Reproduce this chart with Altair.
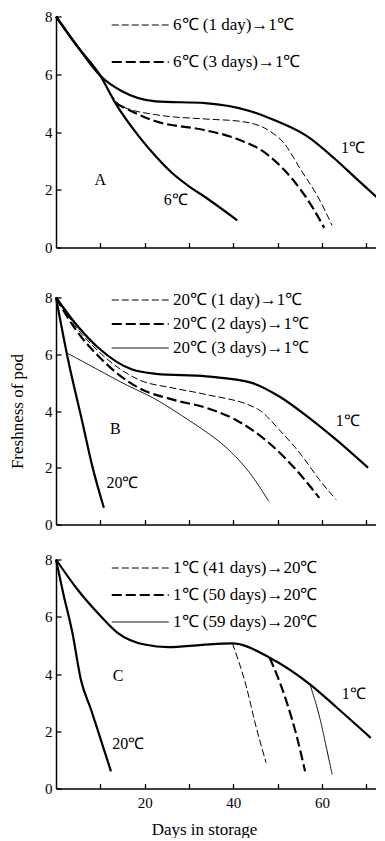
import altair as alt
import pandas as pd

FONT = "Liberation Serif"

# ---------------- Panel A ----------------
A_1C_days = [0, 4.8, 10, 14.9, 22.5, 33.7, 43.9, 49.9, 56.7, 62.7, 68, 72.5]
A_1C_vals = [8, 6.97, 5.95, 5.41, 5.06, 5.0, 4.72, 4.37, 3.85, 3.1, 2.35, 1.72]
A_6C_days = [0, 4.8, 10, 13.4, 18.7, 22.5, 26.2, 30, 33.7, 40.9]
A_6C_vals = [8, 6.97, 5.95, 5.0, 3.85, 3.16, 2.58, 2.12, 1.74, 0.94]
A_1d_days = [10, 14.9, 22.5, 33.7, 41.6, 47.7, 51.4, 55.2, 59, 62.3]
A_1d_vals = [5.95, 4.89, 4.6, 4.45, 4.37, 4.08, 3.62, 2.7, 1.78, 0.76]
A_3d_days = [13.4, 22.5, 33.7, 40.1, 47.7, 51.4, 55.2, 58.2, 60.5]
A_3d_vals = [5.0, 4.37, 4.06, 3.8, 3.22, 2.7, 2.0, 1.31, 0.68]
A_names = ["6℃ (1 day)→1℃", "6℃ (3 days)→1℃"]
A_label_text = ["A", "6℃", "1℃"]
A_label_x = [10, 27, 67]
A_label_y = [2.35, 1.66, 3.46]

# ---------------- Panel B ----------------
B_1C_days = [0, 4.3, 9.6, 17.2, 22.6, 33.9, 44.2, 50.3, 57.1, 63.2, 70.4]
B_1C_vals = [8, 7.1, 6.22, 5.46, 5.31, 5.22, 4.99, 4.52, 3.76, 2.99, 2.0]
B_20C_days = [0, 2.8, 5.9, 8.1, 10.8]
B_20C_vals = [8, 5.75, 3.64, 2.11, 0.59]
B_1d_days = [0, 4.3, 9.6, 18.7, 26.4, 33.9, 45.7, 50.3, 55.6, 59.4, 63.2]
B_1d_vals = [8, 7.0, 6.1, 5.1, 4.81, 4.58, 4.05, 3.35, 2.4, 1.58, 0.88]
B_2d_days = [0, 4.3, 9.6, 18.7, 26.4, 33.9, 40.4, 48, 54.1, 59.4]
B_2d_vals = [8, 6.9, 5.93, 4.81, 4.4, 4.11, 3.7, 2.88, 1.94, 0.94]
B_3d_days = [2.4, 7.4, 15, 22.6, 30.1, 32.8, 38.9, 43.4, 48]
B_3d_vals = [6.05, 5.63, 4.99, 4.4, 3.66, 3.38, 2.64, 1.88, 0.82]
B_names = ["20℃ (1 day)→1℃", "20℃ (2 days)→1℃", "20℃ (3 days)→1℃"]
B_label_text = ["B", "20℃", "1℃"]
B_label_x = [13.4, 15, 65.8]
B_label_y = [3.35, 1.47, 3.64]

# ---------------- Panel C ----------------
C_1C_days = [0, 4.8, 10.1, 13.9, 20, 25.4, 33, 39.8, 48.2, 57.3, 63.4, 71]
C_1C_vals = [8, 6.96, 6.02, 5.44, 5.03, 4.94, 5.02, 5.07, 4.57, 3.64, 2.82, 1.77]
C_20C_days = [0, 1.6, 3.7, 5.6, 7.9, 10.1, 12.4]
C_20C_vals = [8, 6.84, 5.44, 3.81, 2.76, 1.71, 0.6]
C_41_days = [39.8, 42.9, 45.1, 47.4]
C_41_vals = [5.07, 3.58, 2.18, 0.9]
C_50_days = [48.2, 51.6, 54.3, 56.2]
C_50_vals = [4.57, 3.23, 1.83, 0.6]
C_59_days = [57.3, 59.6, 61.1, 62.3]
C_59_vals = [3.64, 2.41, 1.36, 0.49]
C_names = ["1℃ (41 days)→20℃", "1℃ (50 days)→20℃", "1℃ (59 days)→20℃"]
C_label_text = ["C", "20℃", "1℃"]
C_label_x = [14, 16.3, 67.2]
C_label_y = [3.92, 1.54, 3.29]

X_TICKS = [10, 20, 30, 40, 50, 60, 70]
Y_TICKS = [0, 1, 2, 3, 4, 5, 6, 7, 8]

W = 328
DASH_RANGE3 = [[7, 3], [10, 4], [1, 0]]
WIDTH_RANGE3 = [1, 2.2, 1]
INWARD = {"expr": "-5"}


def frame(series_list):
    rows = []
    for name, days, vals in series_list:
        for d, v in zip(days, vals):
            rows.append({"series": name, "day": d, "value": v})
    return pd.DataFrame(rows)


def panel(height, base, trans, names, dash_range, width_range,
          lab_text, lab_x, lab_y, leg_x, leg_y, row_pad, ytitle, bottom):
    xs = alt.Scale(domain=[0, 74], nice=False, zero=False)
    ys = alt.Scale(domain=[0, 8], nice=False)

    left_kw = dict(orient="left", values=Y_TICKS, ticks=True, tickSize=INWARD,
                   tickWidth=1.3, labelExpr="datum.value % 2 == 0 ? datum.label : ''",
                   domain=True, domainWidth=1.5, labelPadding=9, grid=False)
    if ytitle:
        left_kw.update(title=ytitle, titlePadding=18)
    else:
        left_kw.update(title=None)
    left_axis = alt.Axis(**left_kw)

    bottom_kw = dict(orient="bottom", values=X_TICKS, ticks=True, tickSize=INWARD,
                     tickWidth=1.3, domain=True, domainWidth=1.5, grid=False)
    if bottom:
        bottom_kw.update(labelExpr="datum.value % 20 == 0 ? datum.label : ''",
                         labelPadding=12, title="Days in storage", titlePadding=11,
                         titleX=148)
    else:
        bottom_kw.update(labels=False, title=None)
    bottom_axis = alt.Axis(**bottom_kw)

    base_layer = alt.Chart(frame(base)).mark_line(
        color="black", strokeWidth=2.2, interpolate="monotone"
    ).encode(
        x=alt.X("day:Q", scale=xs, axis=bottom_axis),
        y=alt.Y("value:Q", scale=ys, axis=left_axis),
        detail="series:N",
    )

    leg = alt.Legend(orient="none", legendX=leg_x, legendY=leg_y, title=None,
                     symbolType="M-1,0H11", symbolSize=90, labelOffset=48,
                     rowPadding=row_pad, padding=0, symbolStrokeColor="black",
                     labelFont=FONT, labelFontSize=17, labelColor="black",
                     labelLimit=400)

    trans_layer = alt.Chart(frame(trans)).mark_line(
        color="black", interpolate="monotone"
    ).encode(
        x=alt.X("day:Q", scale=xs),
        y=alt.Y("value:Q", scale=ys),
        strokeDash=alt.StrokeDash("series:N",
                                  scale=alt.Scale(type="ordinal", domain=names, range=dash_range),
                                  legend=leg),
        strokeWidth=alt.StrokeWidth("series:N",
                                    scale=alt.Scale(type="ordinal", domain=names, range=width_range),
                                    legend=leg),
    )

    lab_df = pd.DataFrame({"label": lab_text, "x": lab_x, "y": lab_y})
    text_layer = alt.Chart(lab_df).mark_text(
        font=FONT, fontSize=16, color="black", align="center", baseline="middle"
    ).encode(
        x=alt.X("x:Q", scale=xs),
        y=alt.Y("y:Q", scale=ys),
        text="label:N",
    )

    return alt.layer(base_layer, trans_layer, text_layer).properties(width=W, height=height)


pA = panel(231,
           [("1C", A_1C_days, A_1C_vals), ("6C", A_6C_days, A_6C_vals)],
           [(A_names[0], A_1d_days, A_1d_vals), (A_names[1], A_3d_days, A_3d_vals)],
           A_names, DASH_RANGE3[:2], WIDTH_RANGE3[:2],
           A_label_text, A_label_x, A_label_y, 52, 0, 19, None, False)

pB = panel(227,
           [("1C", B_1C_days, B_1C_vals), ("20C", B_20C_days, B_20C_vals)],
           [(B_names[0], B_1d_days, B_1d_vals), (B_names[1], B_2d_days, B_2d_vals),
            (B_names[2], B_3d_days, B_3d_vals)],
           B_names, DASH_RANGE3, WIDTH_RANGE3,
           B_label_text, B_label_x, B_label_y, 52, -6, 6, "Freshness of pod", False)

pC = panel(229,
           [("1C", C_1C_days, C_1C_vals), ("20C", C_20C_days, C_20C_vals)],
           [(C_names[0], C_41_days, C_41_vals), (C_names[1], C_50_days, C_50_vals),
            (C_names[2], C_59_days, C_59_vals)],
           C_names, DASH_RANGE3, WIDTH_RANGE3,
           C_label_text, C_label_x, C_label_y, 52, 0, 9, None, True)

lower = alt.vconcat(pB, pC, spacing=35, bounds="flush").resolve_scale(
    x="independent", y="independent", strokeDash="independent", strokeWidth="independent"
).resolve_legend(strokeDash="independent", strokeWidth="independent")
chart = alt.vconcat(pA, lower, spacing=50, bounds="flush").resolve_scale(
    x="independent", y="independent", strokeDash="independent", strokeWidth="independent"
).resolve_legend(
    strokeDash="independent", strokeWidth="independent"
).properties(
    padding={"left": 0, "top": 1.5, "right": -8, "bottom": 0}
).configure_view(stroke=None).configure_axis(
    labelFont=FONT, labelFontSize=15, labelColor="black",
    titleFont=FONT, titleFontSize=17, titleFontWeight="normal", titleColor="black",
    domainColor="black", tickColor="black",
).configure_legend(labelFont=FONT, labelFontSize=17, labelColor="black")

chart.save("out.html", embed_options={"renderer": "svg", "actions": False})
